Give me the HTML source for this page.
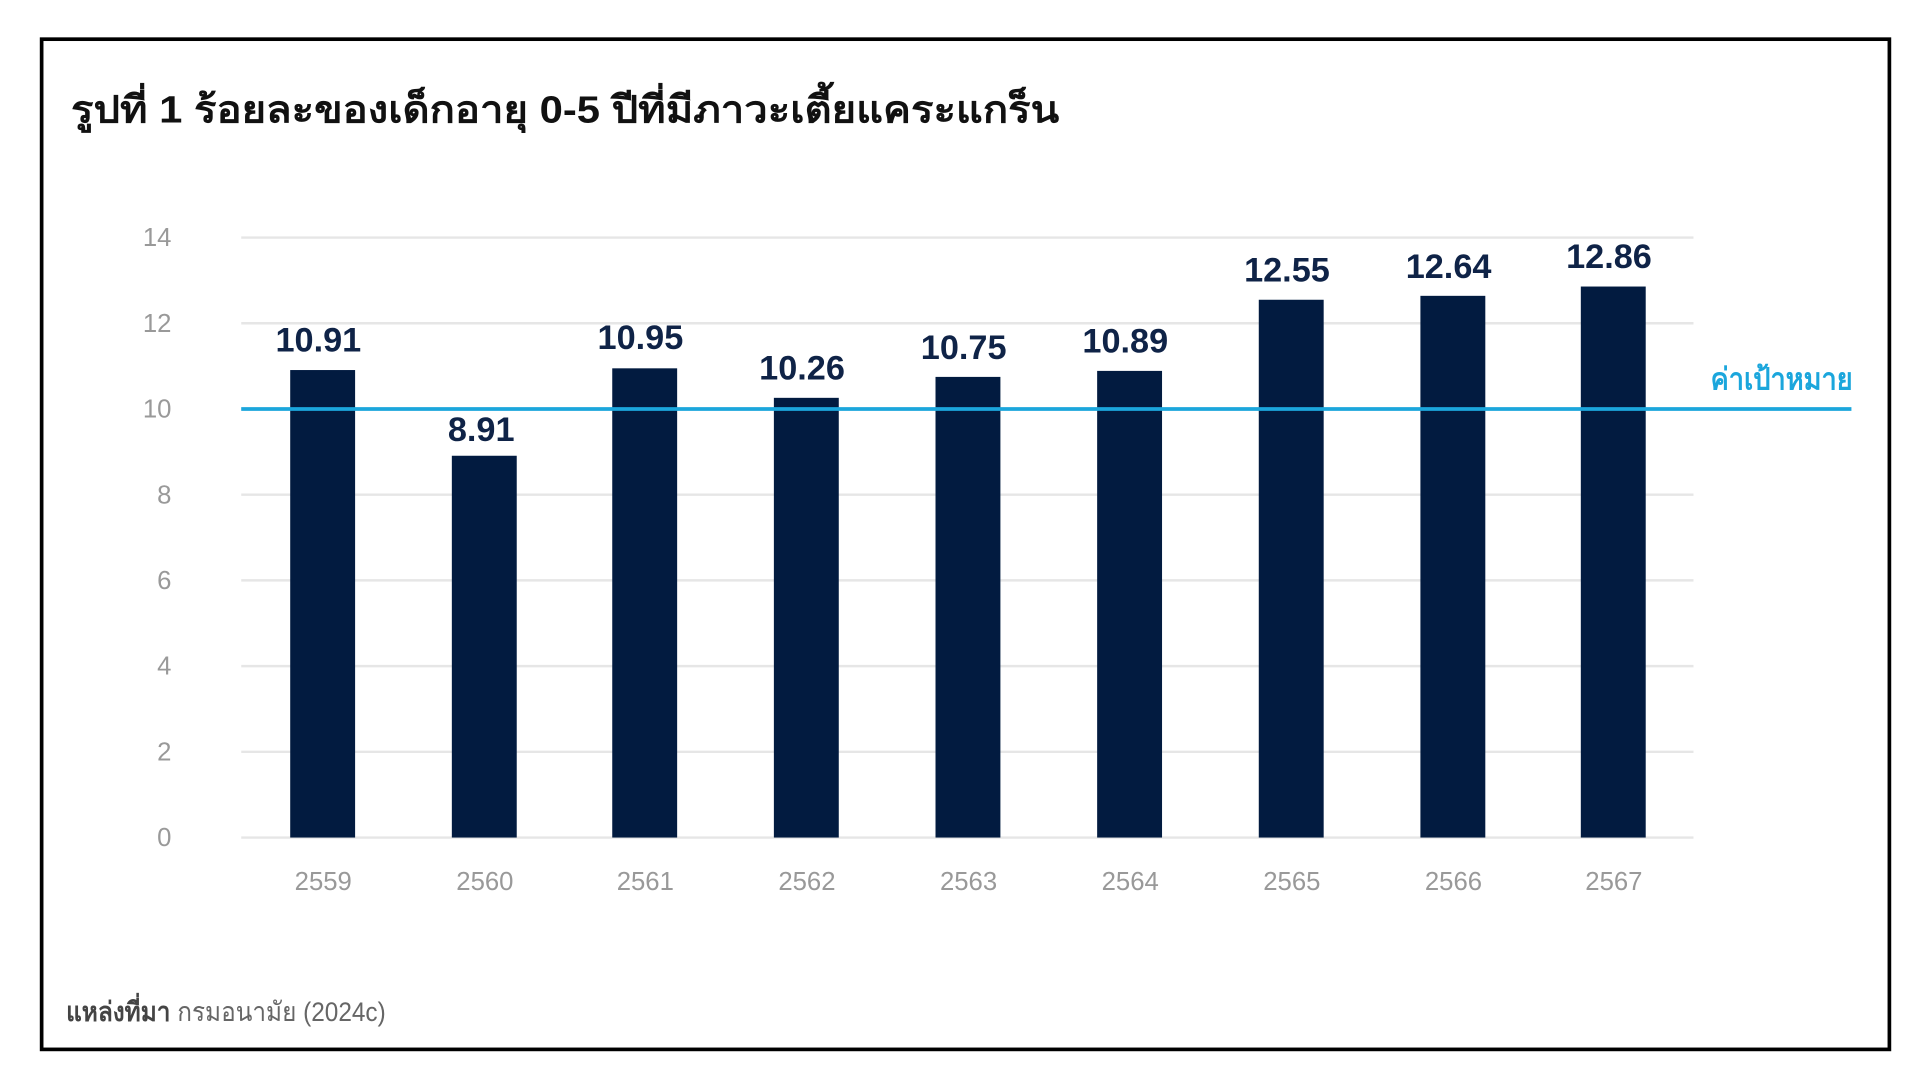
<!DOCTYPE html>
<html><head><meta charset="utf-8"><style>
html,body{margin:0;padding:0;background:#fff;width:1920px;height:1080px;overflow:hidden}
svg{display:block}
text{font-family:"Liberation Sans","Noto Sans CJK SC",sans-serif}
</style></head><body>
<svg width="1920" height="1080" viewBox="0 0 1568 882" preserveAspectRatio="none">
<rect x="34" y="32" width="1509" height="825" fill="none" stroke="#000" stroke-width="3"/>
<text x="58" y="100" font-size="31" font-weight="bold" fill="#111" textLength="807" lengthAdjust="spacingAndGlyphs">รูปที่ 1  ร้อยละของเด็กอายุ 0-5 ปีที่มีภาวะเตี้ยแคระแกร็น</text>
<g stroke="#e6e6e6" stroke-width="2">
<line x1="197" x2="1383" y1="194" y2="194"/><line x1="197" x2="1383" y1="264" y2="264"/>
<line x1="197" x2="1383" y1="334" y2="334"/><line x1="197" x2="1383" y1="404" y2="404"/>
<line x1="197" x2="1383" y1="474" y2="474"/><line x1="197" x2="1383" y1="544" y2="544"/>
<line x1="197" x2="1383" y1="614" y2="614"/><line x1="197" x2="1383" y1="684" y2="684"/>
</g>
<g font-size="21" fill="#999" text-anchor="end">
<text x="140" y="201">14</text><text x="140" y="271">12</text><text x="140" y="341">10</text>
<text x="140" y="411">8</text><text x="140" y="481">6</text><text x="140" y="551">4</text>
<text x="140" y="621">2</text><text x="140" y="691">0</text>
</g>
<g fill="#021b40">
<rect x="237" y="302.2" width="53" height="381.8"/>
<rect x="369" y="372.2" width="53" height="311.8"/>
<rect x="500" y="300.8" width="53" height="383.2"/>
<rect x="632" y="324.9" width="53" height="359.1"/>
<rect x="764" y="307.8" width="53" height="376.2"/>
<rect x="896" y="302.9" width="53" height="381.1"/>
<rect x="1028" y="244.8" width="53" height="439.2"/>
<rect x="1160" y="241.6" width="53" height="442.4"/>
<rect x="1291" y="234" width="53" height="450"/>
</g>
<line x1="197" x2="1512" y1="334" y2="334" stroke="#1ba6dc" stroke-width="3"/>
<text x="1397" y="318" font-size="25" font-weight="bold" fill="#1ba6dc" textLength="116" lengthAdjust="spacingAndGlyphs">ค่าเป้าหมาย</text>
<g font-size="28" font-weight="bold" fill="#0f2347" text-anchor="middle">
<text x="260" y="287">10.91</text><text x="393" y="360">8.91</text><text x="523" y="285">10.95</text>
<text x="655" y="310">10.26</text><text x="787" y="293">10.75</text><text x="919" y="288">10.89</text>
<text x="1051" y="230">12.55</text><text x="1183" y="227">12.64</text><text x="1314" y="219">12.86</text>
</g>
<g font-size="21" fill="#999" text-anchor="middle">
<text x="264" y="727">2559</text><text x="396" y="727">2560</text><text x="527" y="727">2561</text>
<text x="659" y="727">2562</text><text x="791" y="727">2563</text><text x="923" y="727">2564</text>
<text x="1055" y="727">2565</text><text x="1187" y="727">2566</text><text x="1318" y="727">2567</text>
</g>
<text x="54" y="834" font-size="22" fill="#666" textLength="261" lengthAdjust="spacingAndGlyphs"><tspan font-weight="bold" fill="#444">แหล่งที่มา</tspan> กรมอนามัย (2024c)</text>
</svg>
</body></html>
